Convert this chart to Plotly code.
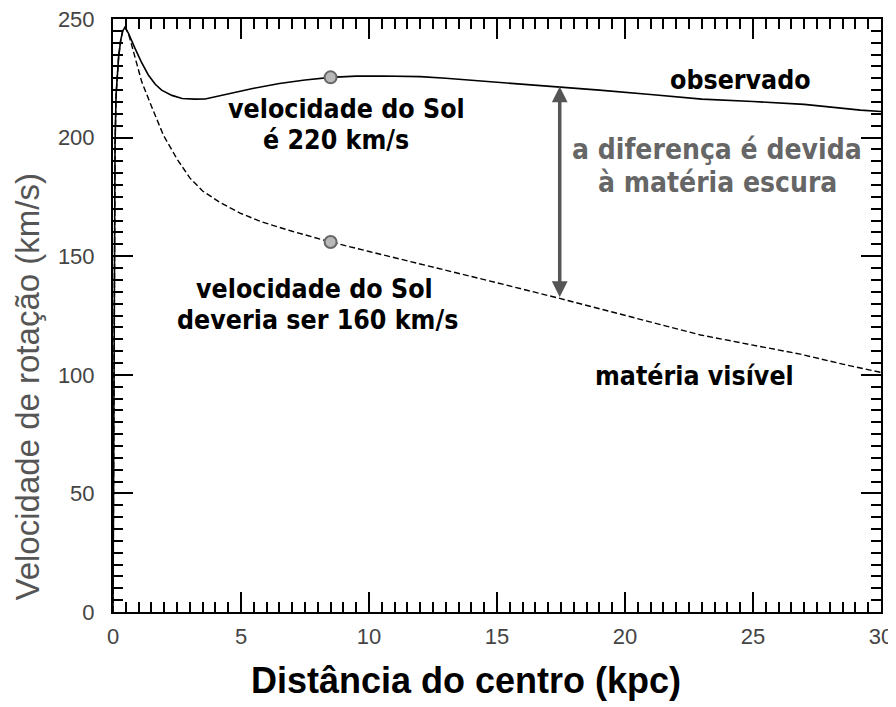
import plotly.graph_objects as go

# ---- data ----
r_observado = [0.0, 0.05, 0.08, 0.12, 0.17, 0.22, 0.3, 0.38, 0.47, 0.6, 0.86, 1.1, 1.38, 1.65,
               1.9, 2.3, 2.7, 3.2, 3.6, 4.3, 5.5, 6.5, 7.5, 8.5, 9.5, 10.5, 12.0, 13.0, 14.5,
               15.7, 17.45, 19.0, 21.0, 23.0, 25.0, 27.0, 29.2, 30.0]
v_observado = [0, 120, 197, 218, 226, 234, 241, 245, 246.5, 244, 237.6, 232, 226.4, 222.5,
               220, 217.8, 216.5, 216.2, 216.3, 218, 220.8, 222.8, 224.3, 225.4, 225.9, 226,
               225.7, 225, 223.8, 222.9, 221.5, 220, 218.2, 216.2, 215.2, 214, 211.6, 211]

r_visivel = [0.0, 0.05, 0.08, 0.12, 0.17, 0.22, 0.3, 0.38, 0.47, 0.6, 0.73, 0.9, 1.12, 1.51,
             1.97, 2.5, 3.0, 3.5, 4.2, 5.0, 5.8, 7.0, 8.5, 10.0, 12.5, 15.0, 17.45, 20.0,
             22.95, 25.0, 26.85, 28.5, 30.0]
v_visivel = [0, 120, 197, 218, 226, 234, 241, 245, 246.5, 244, 239, 232, 223.6, 213,
             201, 191, 183, 177.5, 172.5, 168, 164.5, 160.5, 156, 152, 145.5, 138.8, 132.2, 125,
             116.8, 112.5, 108.7, 104.5, 101]

r_sol = [8.5, 8.5]
v_sol = [225.4, 156.0]

r_diferenca = 17.45
v_diferenca_topo = 221.5
v_diferenca_base = 132.2

x_ticks = [0, 5, 10, 15, 20, 25, 30]
y_ticks = [0, 50, 100, 150, 200, 250]

# text labels: (text, x, y)
rotulos_pretos = [
    ("velocidade do Sol", 9.14, 212.4),
    ("é 220 km/s", 8.71, 199.3),
    ("velocidade do Sol", 7.89, 136.4),
    ("deveria ser 160 km/s", 8.0, 123.3),
    ("observado", 24.5, 224.3),
    ("matéria visível", 22.7, 99.9),
]
rotulos_cinza = [
    ("a diferença é devida", 23.6, 194.8),
    ("à matéria escura", 23.6, 180.9),
]

FONT_LABEL = "Liberation Sans Narrow, DejaVu Sans Condensed, Arial Narrow, sans-serif"

fig = go.Figure()
fig.add_trace(go.Scatter(x=r_observado, y=v_observado, mode="lines",
                         line=dict(color="black", width=1.6), name="observado",
                         showlegend=False))
fig.add_trace(go.Scatter(x=r_visivel, y=v_visivel, mode="lines",
                         line=dict(color="black", width=1.4, dash="6px,3px"),
                         name="matéria visível", showlegend=False))
fig.add_trace(go.Scatter(x=r_sol, y=v_sol, mode="markers",
                         marker=dict(size=12, color="#b8b8b8",
                                     line=dict(color="#666666", width=2)),
                         showlegend=False))

ann = []
# double headed arrow
ann.append(dict(x=r_diferenca, y=v_diferenca_topo, ax=r_diferenca, ay=v_diferenca_base,
                xref="x", yref="y", axref="x", ayref="y", text="", showarrow=True,
                arrowhead=2, startarrowhead=2, arrowside="end+start", arrowsize=0.9,
                startarrowsize=0.9, arrowwidth=3.5, arrowcolor="#555555",
                standoff=0, startstandoff=0))

lbl = dict(family=FONT_LABEL, size=26.5, color="black", weight="bold")
for txt, x, y in rotulos_pretos:
    ann.append(dict(x=x, y=y, xref="x", yref="y", showarrow=False, text=txt, font=lbl,
                    xanchor="center", yanchor="middle"))
lbl_g = dict(family=FONT_LABEL, size=28, color="#666666", weight="bold")
for txt, x, y in rotulos_cinza:
    ann.append(dict(x=x, y=y, xref="x", yref="y", showarrow=False, text=txt, font=lbl_g,
                    xanchor="center", yanchor="middle"))

# axis titles (positions relative to the plotting area)
ann.append(dict(x=(466 - 113) / 768, y=(612 - 680) / 593, xref="paper", yref="paper",
                showarrow=False, text="Distância do centro (kpc)",
                xanchor="center", yanchor="middle",
                font=dict(family="Liberation Sans, Arial, sans-serif", size=36,
                          color="black", weight="bold")))
ann.append(dict(x=(27 - 113) / 768, y=(612 - 387.5) / 593, xref="paper", yref="paper",
                showarrow=False, text="Velocidade de rotação (km/s)", textangle=-90,
                xanchor="center", yanchor="middle",
                font=dict(family="Liberation Sans, Arial, sans-serif", size=33,
                          color="#555555")))

axis_common = dict(showline=True, linecolor="black", linewidth=2, mirror="ticks",
                   ticks="inside", tickcolor="black", tickwidth=1.5, ticklen=20,
                   showgrid=False, zeroline=False, automargin=False,
                   ticklabeloverflow="allow",
                   tickfont=dict(family="Liberation Sans, Arial, sans-serif", size=22,
                                 color="#444444"))

# the page body adds an 8 px offset, so the figure is sized to fit the window
fig.update_layout(
    width=888, height=699,
    margin=dict(l=105, r=15, t=11, b=95, autoexpand=False),
    paper_bgcolor="white", plot_bgcolor="white",
    xaxis=dict(range=[0, 30], tickvals=x_ticks, ticklabelstandoff=4,
               minor=dict(dtick=0.5, ticklen=10, ticks="inside", tickcolor="black",
                          tickwidth=1.5, showgrid=False),
               **axis_common),
    yaxis=dict(range=[0, 250], tickvals=y_ticks, ticklabelstandoff=12,
               minor=dict(dtick=5, ticklen=10, ticks="inside", tickcolor="black",
                          tickwidth=1.5, showgrid=False),
               **axis_common),
    annotations=ann,
)

fig.write_html("out.html")
